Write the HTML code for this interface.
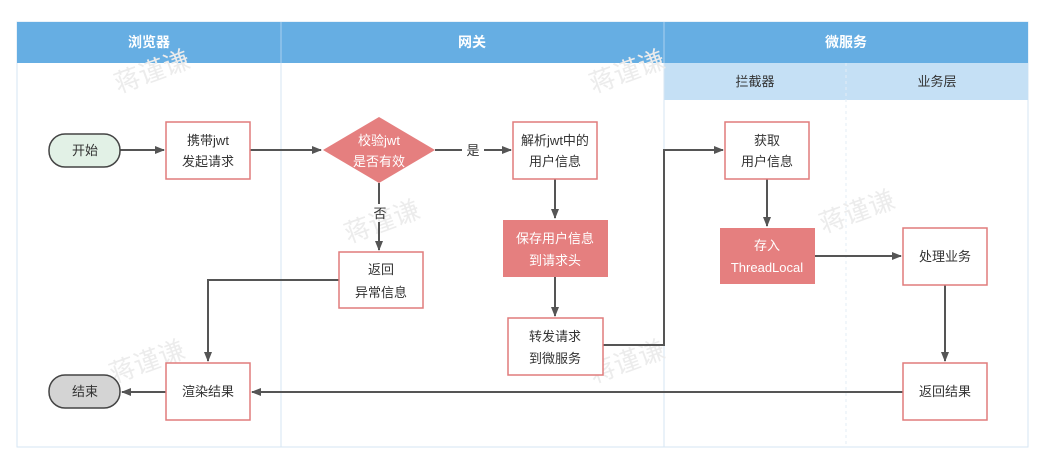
<!DOCTYPE html>
<html><head><meta charset="utf-8"><style>
body{margin:0;background:#fff;}
svg text{font-family:"Liberation Sans","Noto Sans CJK SC",sans-serif;}
</style></head><body>
<svg width="1051" height="460" viewBox="0 0 1051 460" xmlns="http://www.w3.org/2000/svg">
<defs><marker id="a" markerWidth="10" markerHeight="8" refX="9" refY="4" orient="auto" markerUnits="userSpaceOnUse"><path d="M0,0 L10,4 L0,8 Z" fill="#555"/></marker></defs>
<rect x="0" y="0" width="1051" height="460" fill="#fff"/>
<!-- swimlanes -->
<rect x="17" y="22" width="1011" height="425" fill="#fff" stroke="#d6e6f3"/>
<rect x="17" y="22" width="1011" height="41" fill="#66aee3"/>
<rect x="664" y="63" width="364" height="37" fill="#c5e0f5"/>
<line x1="281" y1="22" x2="281" y2="447" stroke="#d6e6f3"/>
<line x1="664" y1="22" x2="664" y2="447" stroke="#d6e6f3"/>
<line x1="281" y1="22" x2="281" y2="63" stroke="#a9d0ef"/>
<line x1="664" y1="22" x2="664" y2="63" stroke="#a9d0ef"/>
<line x1="846" y1="63" x2="846" y2="447" stroke="#e3edf5" stroke-dasharray="3,3"/>
<g font-size="14" font-weight="bold" fill="#fff" text-anchor="middle">
<text x="149" y="47">浏览器</text><text x="472" y="47">网关</text><text x="846" y="47">微服务</text></g>
<g font-size="13" fill="#333" text-anchor="middle"><text x="755" y="86">拦截器</text><text x="937" y="86">业务层</text></g>
<!-- watermarks -->
<g font-size="26" fill="#ececec" text-anchor="middle">
<text transform="translate(155,80) rotate(-20)">蒋谨谦</text>
<text transform="translate(385,230) rotate(-20)">蒋谨谦</text>
<text transform="translate(630,80) rotate(-20)">蒋谨谦</text>
<text transform="translate(860,220) rotate(-20)">蒋谨谦</text>
<text transform="translate(150,370) rotate(-20)">蒋谨谦</text>
<text transform="translate(630,370) rotate(-20)">蒋谨谦</text>
</g>
<!-- connectors -->
<g stroke="#555" stroke-width="2" fill="none">
<line x1="120" y1="150" x2="164" y2="150" marker-end="url(#a)"/>
<line x1="250" y1="150" x2="321" y2="150" marker-end="url(#a)"/>
<line x1="435" y1="150" x2="462" y2="150"/>
<line x1="484" y1="150" x2="511" y2="150" marker-end="url(#a)"/>
<line x1="379" y1="183" x2="379" y2="204"/>
<line x1="379" y1="222" x2="379" y2="250" marker-end="url(#a)"/>
<line x1="555" y1="179" x2="555" y2="218" marker-end="url(#a)"/>
<line x1="555" y1="277" x2="555" y2="316" marker-end="url(#a)"/>
<polyline points="603,345 664,345 664,150 723,150" marker-end="url(#a)"/>
<line x1="767" y1="179" x2="767" y2="226" marker-end="url(#a)"/>
<line x1="815" y1="256" x2="901" y2="256" marker-end="url(#a)"/>
<line x1="945" y1="285" x2="945" y2="361" marker-end="url(#a)"/>
<line x1="903" y1="392" x2="252" y2="392" marker-end="url(#a)"/>
<line x1="166" y1="392" x2="122" y2="392" marker-end="url(#a)"/>
<polyline points="339,280 208,280 208,361" marker-end="url(#a)"/>
</g>
<g font-size="13" fill="#333" text-anchor="middle"><text x="473" y="155">是</text><text x="380" y="218">否</text></g>
<!-- nodes -->
<rect x="49" y="134" width="71" height="33" rx="16" fill="#e2f1e6" stroke="#444" stroke-width="1.5"/>
<rect x="49" y="375" width="71" height="33" rx="16" fill="#d4d4d4" stroke="#444" stroke-width="1.5"/>
<g fill="#fff" stroke="#e07c7c" stroke-width="1.5">
<rect x="166" y="122" width="84" height="57"/>
<rect x="513" y="122" width="84" height="57"/>
<rect x="725" y="122" width="84" height="57"/>
<rect x="339" y="252" width="84" height="56"/>
<rect x="508" y="318" width="95" height="57"/>
<rect x="903" y="228" width="84" height="57"/>
<rect x="166" y="363" width="84" height="57"/>
<rect x="903" y="363" width="84" height="57"/>
</g>
<polygon points="379,117 435,150 379,183 323,150" fill="#e57f7f"/>
<rect x="503" y="220" width="105" height="57" fill="#e57f7f"/>
<rect x="720" y="228" width="95" height="56" fill="#e57f7f"/>
<g font-size="13" fill="#333" text-anchor="middle">
<text x="85" y="155">开始</text><text x="85" y="396">结束</text>
<text x="208" y="145">携带jwt</text><text x="208" y="166">发起请求</text>
<text x="555" y="145">解析jwt中的</text><text x="555" y="166">用户信息</text>
<text x="767" y="145">获取</text><text x="767" y="166">用户信息</text>
<text x="381" y="274">返回</text><text x="381" y="297">异常信息</text>
<text x="555" y="341">转发请求</text><text x="555" y="363">到微服务</text>
<text x="945" y="261">处理业务</text>
<text x="208" y="396">渲染结果</text><text x="945" y="396">返回结果</text>
</g>
<g font-size="13" fill="#fff" text-anchor="middle">
<text x="379" y="145">校验jwt</text><text x="379" y="166">是否有效</text>
<text x="555" y="243">保存用户信息</text><text x="555" y="265">到请求头</text>
<text x="767" y="250">存入</text><text x="767" y="272">ThreadLocal</text>
</g>
</svg>
</body></html>
